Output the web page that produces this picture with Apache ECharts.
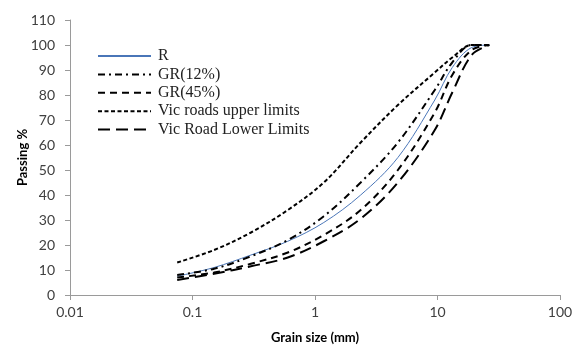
<!DOCTYPE html>
<html>
<head>
    <meta charset="utf-8">
    <title>Grain size distribution</title>
    <script src="https://cdn.jsdelivr.net/npm/echarts@6/dist/echarts.min.js"></script>
    <style>
        html, body { margin: 0; padding: 0; background: #fff; }
    </style>
</head>
<body>
    <div id="chart" style="width:574px; height:349px"></div>

    <script>
        // sieve sizes (mm)
        const sizes = [0.075, 0.15, 0.3, 0.6, 1.18, 2.36, 4.75, 9.5, 13.2, 19, 26.5];

        // passing % for each curve
        const rPassing     = [7.5, 11, 16, 21.5, 29, 40, 55, 78, 91, 99, 100];
        const gr12Passing  = [8, 10.5, 15.5, 22, 31.5, 45, 61, 82, 93, 100, 100];
        const gr45Passing  = [7, 9, 12.5, 17, 24, 34, 50, 73, 88, 98, 100];
        const upperLimits  = [13, 18, 25, 34, 45, 61, 76, 89, 95, 100, 100];
        const lowerLimits  = [6, 8.5, 11.5, 15, 21.5, 30.5, 45, 66, 81, 96, 100];

        const seriesNames = ['R', 'GR(12%)', 'GR(45%)', 'Vic roads upper limits', 'Vic Road Lower Limits'];
        const xTickLabels = ['0.01', '0.1', '1', '10', '100'];

        let chart = echarts.init(document.getElementById('chart'));

        function pairs(vals) {
            return sizes.map((s, i) => [s, vals[i]]);
        }

        function lineSeries(name, vals, color, width, type) {
            return {
                name: name,
                type: 'line',
                data: pairs(vals),
                symbol: 'none',
                smooth: 0.35,
                lineStyle: { color: color, width: width, type: type },
                itemStyle: { color: color }
            };
        }

        let option = {
            animation: false,
            grid: { left: 70, right: 14, top: 20, bottom: 54, containLabel: false, outerBoundsMode: 'none' },
            legend: {
                orient: 'vertical',
                left: 92,
                top: 43,
                itemWidth: 53,
                itemHeight: 14,
                itemGap: 2.4,
                data: seriesNames,
                itemStyle: { opacity: 0 },
                textStyle: {
                    fontFamily: 'Liberation Serif',
                    fontSize: 16,
                    color: '#222',
                    padding: [0, 0, 0, 2]
                }
            },
            xAxis: {
                type: 'log',
                logBase: 10,
                min: 0.01,
                max: 100,
                name: 'Grain size (mm)',
                nameLocation: 'middle',
                nameGap: 36,
                nameTextStyle: { fontFamily: 'Lato', fontWeight: 'bold', fontSize: 13, color: '#000' },
                axisLine: { lineStyle: { color: '#9a9a9a' } },
                axisTick: { show: true, length: 5, lineStyle: { color: '#9a9a9a' } },
                splitLine: { show: false },
                minorTick: { show: false },
                axisLabel: {
                    margin: 10,
                    fontFamily: 'Lato',
                    fontSize: 14,
                    color: '#404040',
                    formatter: function (v) {
                        let idx = Math.round(Math.log10(v)) + 2;
                        return xTickLabels[idx] !== undefined ? xTickLabels[idx] : '';
                    }
                }
            },
            yAxis: {
                type: 'value',
                min: 0,
                max: 110,
                interval: 10,
                name: 'Passing %',
                nameLocation: 'middle',
                nameGap: 41,
                nameRotate: 90,
                nameMoveOverlap: false,
                nameTextStyle: { fontFamily: 'Lato', fontWeight: 'bold', fontSize: 13, color: '#000' },
                axisLine: { show: true, lineStyle: { color: '#9a9a9a' } },
                axisTick: { show: true, length: 5, lineStyle: { color: '#9a9a9a' } },
                splitLine: { show: false },
                axisLabel: { margin: 15, fontFamily: 'Lato', fontSize: 14, color: '#404040' }
            },
            series: [
                lineSeries(seriesNames[0], rPassing, '#4a76b8', 1, 'solid'),
                lineSeries(seriesNames[1], gr12Passing, '#000', 2, [7, 4, 2, 4]),
                lineSeries(seriesNames[2], gr45Passing, '#000', 2, [7, 5]),
                lineSeries(seriesNames[3], upperLimits, '#000', 2, [4, 2.5]),
                lineSeries(seriesNames[4], lowerLimits, '#000', 2, [12, 6])
            ]
        };

        chart.setOption(option);
    </script>
</body>
</html>
